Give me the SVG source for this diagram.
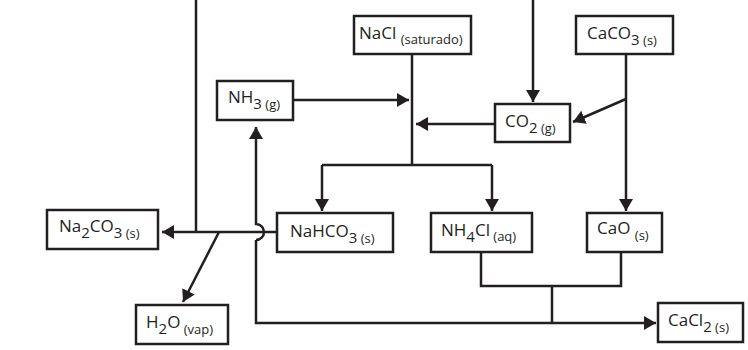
<svg xmlns="http://www.w3.org/2000/svg" width="748" height="350" viewBox="0 0 748 350">
<style>
.box{fill:#fff;stroke:#231f20;stroke-width:2.5}
.ln{fill:none;stroke:#231f20;stroke-width:2.5}
text{font-family:"Open Sans","Noto Sans",sans-serif;font-size:17px;fill:#231f20}
.sub{font-size:15px}
.st{font-size:13px}
</style>
<defs>
<marker id="ah" markerWidth="12" markerHeight="14" viewBox="0 0 12 14" refX="12" refY="7" orient="auto" markerUnits="userSpaceOnUse">
<path d="M0,0 L12,7 L0,14 Z" fill="#231f20"/>
</marker>
</defs>
<g id="connectors">
<path class="ln" d="M196,0 V232"/>
<path class="ln" d="M533,0 V102" marker-end="url(#ah)"/>
<path class="ln" d="M412,54 V165"/>
<path class="ln" d="M322,165 H492"/>
<path class="ln" d="M322,165 V211" marker-end="url(#ah)"/>
<path class="ln" d="M492,165 V211" marker-end="url(#ah)"/>
<path class="ln" d="M293,100 H409" marker-end="url(#ah)"/>
<path class="ln" d="M495,124 H416" marker-end="url(#ah)"/>
<path class="ln" d="M626,54 V211" marker-end="url(#ah)"/>
<path class="ln" d="M626,99 L573,122" marker-end="url(#ah)"/>
<path class="ln" d="M277,232 H162" marker-end="url(#ah)"/>
<path class="ln" d="M219,232 L183,302" marker-end="url(#ah)"/>
<path class="ln" d="M256,240 A8,8 0 0 0 256,224 V127" marker-end="url(#ah)"/>
<path class="ln" d="M256,240 V323 H656" marker-end="url(#ah)"/>
<path class="ln" d="M481,252 V286 H621 V252"/>
<path class="ln" d="M552,286 V323"/>
</g>
<g id="nacl"><rect class="box" x="354" y="16" width="117" height="38"/><text x="359" y="39">NaCl <tspan class="st" dy="5">(saturado)</tspan></text></g>
<g id="caco3"><rect class="box" x="576" y="16" width="97" height="38"/><text x="587" y="39">CaCO<tspan class="sub" dy="6">3</tspan><tspan class="st"> (s)</tspan></text></g>
<g id="nh3"><rect class="box" x="217" y="81" width="76" height="39"/><text x="228" y="103">NH<tspan class="sub" dy="6">3</tspan><tspan class="st"> (g)</tspan></text></g>
<g id="co2"><rect class="box" x="495" y="104" width="75" height="38"/><text x="505" y="127">CO<tspan class="sub" dy="6">2</tspan><tspan class="st"> (g)</tspan></text></g>
<g id="na2co3"><rect class="box" x="47" y="210" width="111" height="39"/><text x="59" y="232">Na<tspan class="sub" dy="6">2</tspan><tspan dy="-6">CO</tspan><tspan class="sub" dy="6">3</tspan><tspan class="st"> (s)</tspan></text></g>
<g id="nahco3"><rect class="box" x="277" y="213" width="116" height="39"/><text x="290" y="237">NaHCO<tspan class="sub" dy="6">3</tspan><tspan class="st"> (s)</tspan></text></g>
<g id="nh4cl"><rect class="box" x="431" y="213" width="101" height="39"/><text x="441" y="236">NH<tspan class="sub" dy="6">4</tspan><tspan dy="-6">Cl</tspan><tspan class="st" dy="5"> (aq)</tspan></text></g>
<g id="cao"><rect class="box" x="587" y="213" width="75" height="39"/><text x="597" y="234">CaO <tspan class="st" dy="6">(s)</tspan></text></g>
<g id="h2o"><rect class="box" x="136" y="305" width="92" height="39"/><text x="146" y="328">H<tspan class="sub" dy="6">2</tspan><tspan dy="-6">O</tspan><tspan class="st" dy="6"> (vap)</tspan></text></g>
<g id="cacl2"><rect class="box" x="658" y="303" width="85" height="39"/><text x="668" y="326">CaCl<tspan class="sub" dy="6">2</tspan><tspan class="st"> (s)</tspan></text></g>
</svg>
